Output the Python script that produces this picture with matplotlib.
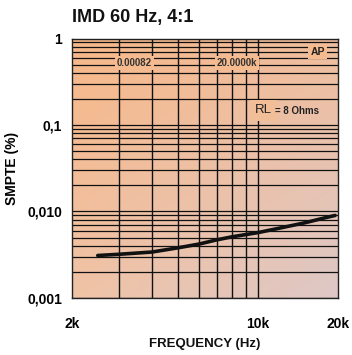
import numpy as np
import matplotlib
matplotlib.use("Agg")
import matplotlib.pyplot as plt
from matplotlib.colors import to_rgb
from matplotlib.ticker import FixedLocator, NullFormatter, LogLocator

plt.rcParams['font.family'] = ['Liberation Sans', 'DejaVu Sans']

# Measured IMD (SMPTE) versus frequency
freq_hz = [2500, 3000, 4000, 5000, 6000, 7000, 8000, 10000, 12000, 15000, 18000, 19500]
smpte_pct = [0.0031, 0.0032, 0.0034, 0.0038, 0.0042, 0.0047, 0.0051, 0.0057, 0.0064, 0.0074, 0.0085, 0.0090]

x_ticks = [2000, 10000, 20000]
x_tick_labels = ["2k", "10k", "20k"]
y_ticks = [0.001, 0.01, 0.1, 1]
y_tick_labels = ["0,001", "0,010", "0,1", "1"]

fig = plt.figure(figsize=(3.52, 3.55), dpi=100)
ax = fig.add_axes([0.2045, 0.1606, 0.7557, 0.7309])
ax.set_xscale("log")
ax.set_yscale("log")
ax.set_xlim(2000, 20000)
ax.set_ylim(0.001, 1)

# Peach-to-mauve paper background
tl = np.array(to_rgb("#F7B889"))
tr = np.array(to_rgb("#F0BE9E"))
bl = np.array(to_rgb("#F0C3A6"))
br = np.array(to_rgb("#DEC8C6"))
u = np.linspace(0, 1, 64)[None, :, None]
v = np.linspace(0, 1, 64)[:, None, None]
grad = (1 - v) * ((1 - u) * tl + u * tr) + v * ((1 - u) * bl + u * br)
ax.imshow(grad, extent=[0, 1, 0, 1], transform=ax.transAxes, aspect="auto",
          zorder=0, interpolation="bilinear")

# Grid
grid_x = [3000, 4000, 5000, 6000, 7000, 8000, 9000, 10000]
for gx in grid_x:
    ax.axvline(gx, color="#111111", lw=1.0, zorder=1)
ax.yaxis.set_minor_locator(LogLocator(base=10, subs=np.arange(2, 10)))
ax.yaxis.set_minor_formatter(NullFormatter())
for dec in [0.001, 0.01, 0.1]:
    for k in range(1, 10):
        ax.axhline(dec * k, color="#111111", lw=0.9, zorder=1)

ax.plot(freq_hz, smpte_pct, color="#111111", lw=2.6, solid_capstyle="round", zorder=3)

ax.xaxis.set_major_locator(FixedLocator(x_ticks))
ax.set_xticklabels(x_tick_labels)
ax.xaxis.set_minor_formatter(NullFormatter())
ax.xaxis.set_minor_locator(FixedLocator([]))
ax.yaxis.set_major_locator(FixedLocator(y_ticks))
ax.set_yticklabels(y_tick_labels)
ax.tick_params(axis="both", which="both", length=0)
ax.tick_params(axis="x", pad=14, labelsize=10)
ax.tick_params(axis="y", pad=7, labelsize=10)
for lab in ax.get_xticklabels() + ax.get_yticklabels():
    lab.set_fontweight("bold")

for s in ax.spines.values():
    s.set_color("#222222")
    s.set_linewidth(1.0)

bg = dict(boxstyle="square,pad=0.2", fc="#F5BA8E", ec="none")
ax.text(0.951, 0.948, "AP", transform=ax.transAxes, ha="right", va="center",
        fontsize=7.5, fontweight="bold", color="#222222", bbox=bg, zorder=4)
ax.text(0.169, 0.907, "0.00082", transform=ax.transAxes, ha="left", va="center",
        fontsize=7, fontweight="bold", color="#333333", bbox=bg, zorder=4)
ax.text(0.545, 0.907, "20.0000k", transform=ax.transAxes, ha="left", va="center",
        fontsize=7, fontweight="bold", color="#333333", bbox=bg, zorder=4)
bg2 = dict(boxstyle="square,pad=0.35", fc="#F2BE98", ec="none")
ax.text(0.688, 0.724, "RL", transform=ax.transAxes, ha="left", va="center",
        fontsize=9.5, color="#222222", bbox=bg2, zorder=4)
ax.text(0.762, 0.72, "= 8 Ohms", transform=ax.transAxes, ha="left", va="center",
        fontsize=7, fontweight="bold", color="#222222", zorder=5)

fig.text(0.2045, 0.952, "IMD 60 Hz, 4:1", ha="left", va="center",
         fontsize=13, fontweight="bold", color="#111111")
ax.set_ylabel("SMPTE (%)", fontsize=10, fontweight="bold", labelpad=6)
fig.text(0.582, 0.031, "FREQUENCY (Hz)", ha="center", va="center",
         fontsize=9.5, fontweight="bold", color="#111111")
ax.yaxis.set_label_coords(-0.20, 0.5)

fig.savefig("out.png", dpi=100, facecolor="white")
